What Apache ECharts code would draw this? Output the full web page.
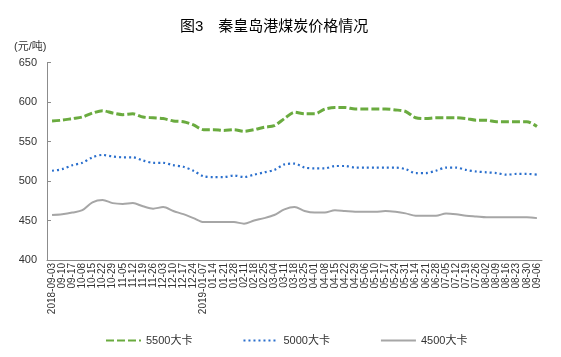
<!DOCTYPE html>
<html>
<head>
<meta charset="utf-8">
<script src="https://cdn.jsdelivr.net/npm/echarts@6/dist/echarts.min.js"></script>
<style>html,body{margin:0;padding:0;background:#fff;}#c{width:561px;height:357px;}</style>
</head>
<body>
<div id="c"></div>
<script>
const categories = ['2018-09-03','09-10','09-17','10-08','10-15','10-22','10-29','11-05','11-12','11-19','11-26','12-03','12-10','12-17','12-24','2019-01-07','01-14','01-21','01-28','02-11','02-18','02-25','03-04','03-11','03-18','03-25','04-01','04-08','04-15','04-22','04-29','05-06','05-10','05-17','05-24','05-31','06-14','06-21','06-28','07-05','07-12','07-19','07-26','08-02','08-09','08-16','08-23','08-30','09-06'];
const s5500 = [576,577,579,581,586,589,586,584,585,581,580,579,576,575,571,565,565,564,565,563,565,568,570,579,587,585,585,591,593,593,591,591,591,591,590,588,580,579,580,580,580,579,577,577,575,575,575,575,569];
const s5000 = [513,515,520,523,530,533,531,530,530,526,523,523,520,518,513,506,505,505,507,505,508,511,514,521,522,517,516,516,519,519,517,517,517,517,517,515,510,510,513,517,517,514,512,511,510,508,509,509,508];
const s4500 = [457,458,460,463,473,476,472,471,472,468,465,467,462,458,453,448,448,448,448,446,450,453,457,464,467,462,460,460,463,462,461,461,461,462,461,459,456,456,456,459,458,456,455,454,454,454,454,454,453];
const seriesNames = ['5500大卡','5000大卡','4500大卡'];
const yTicks = {min:400, max:650, interval:50};

const font = '"Liberation Sans","Noto Sans CJK SC",sans-serif';
const chart = echarts.init(document.getElementById('c'), null, {renderer:'canvas'});
chart.setOption({
  animation:false,
  backgroundColor:'#ffffff',
  title:[
    {text:'图3　秦皇岛港煤炭价格情况', left:175, top:14, textStyle:{fontFamily:font, fontSize:15, fontWeight:'normal', color:'#000'}},
    {text:'(元/吨)', left:9, top:36, textStyle:{fontFamily:font, fontSize:11, fontWeight:'normal', color:'#333'}}
  ],
  legend:{
    bottom:6, left:100, itemGap:50, itemWidth:35, itemHeight:10,
    itemStyle:{opacity:0},
    textStyle:{fontFamily:font, fontSize:11, color:'#333'},
    data:seriesNames
  },
  grid:{left:47, right:19, top:62.5, bottom:97},
  xAxis:{
    type:'category', data:categories, boundaryGap:true,
    axisLine:{lineStyle:{color:'#8c8c8c', width:1}},
    axisTick:{inside:true, length:3, lineStyle:{color:'#8c8c8c'}, interval:function(i){return i%3===1;}},
    axisLabel:{interval:0, rotate:90, fontSize:10, margin:3, color:'#333', fontFamily:font}
  },
  yAxis:{
    type:'value', min:yTicks.min, max:yTicks.max, interval:yTicks.interval,
    axisLine:{show:true, lineStyle:{color:'#8c8c8c', width:1}},
    axisTick:{show:true, inside:true, length:4, lineStyle:{color:'#8c8c8c'}},
    splitLine:{show:false},
    axisLabel:{fontSize:11, margin:10, color:'#333', fontFamily:font}
  },
  series:[
    {name:seriesNames[0], type:'line', data:s5500, smooth:0.3, symbol:'none',
     itemStyle:{color:'#6aab3f'}, lineStyle:{color:'#6aab3f', width:3, type:[8,3]}},
    {name:seriesNames[1], type:'line', data:s5000, smooth:0.3, symbol:'none',
     itemStyle:{color:'#2a6fcd'}, lineStyle:{color:'#2a6fcd', width:2.2, type:[2,3]}},
    {name:seriesNames[2], type:'line', data:s4500, smooth:0.3, symbol:'none',
     itemStyle:{color:'#a6a6a6'}, lineStyle:{color:'#a6a6a6', width:2}}
  ]
});
</script>
</body>
</html>
